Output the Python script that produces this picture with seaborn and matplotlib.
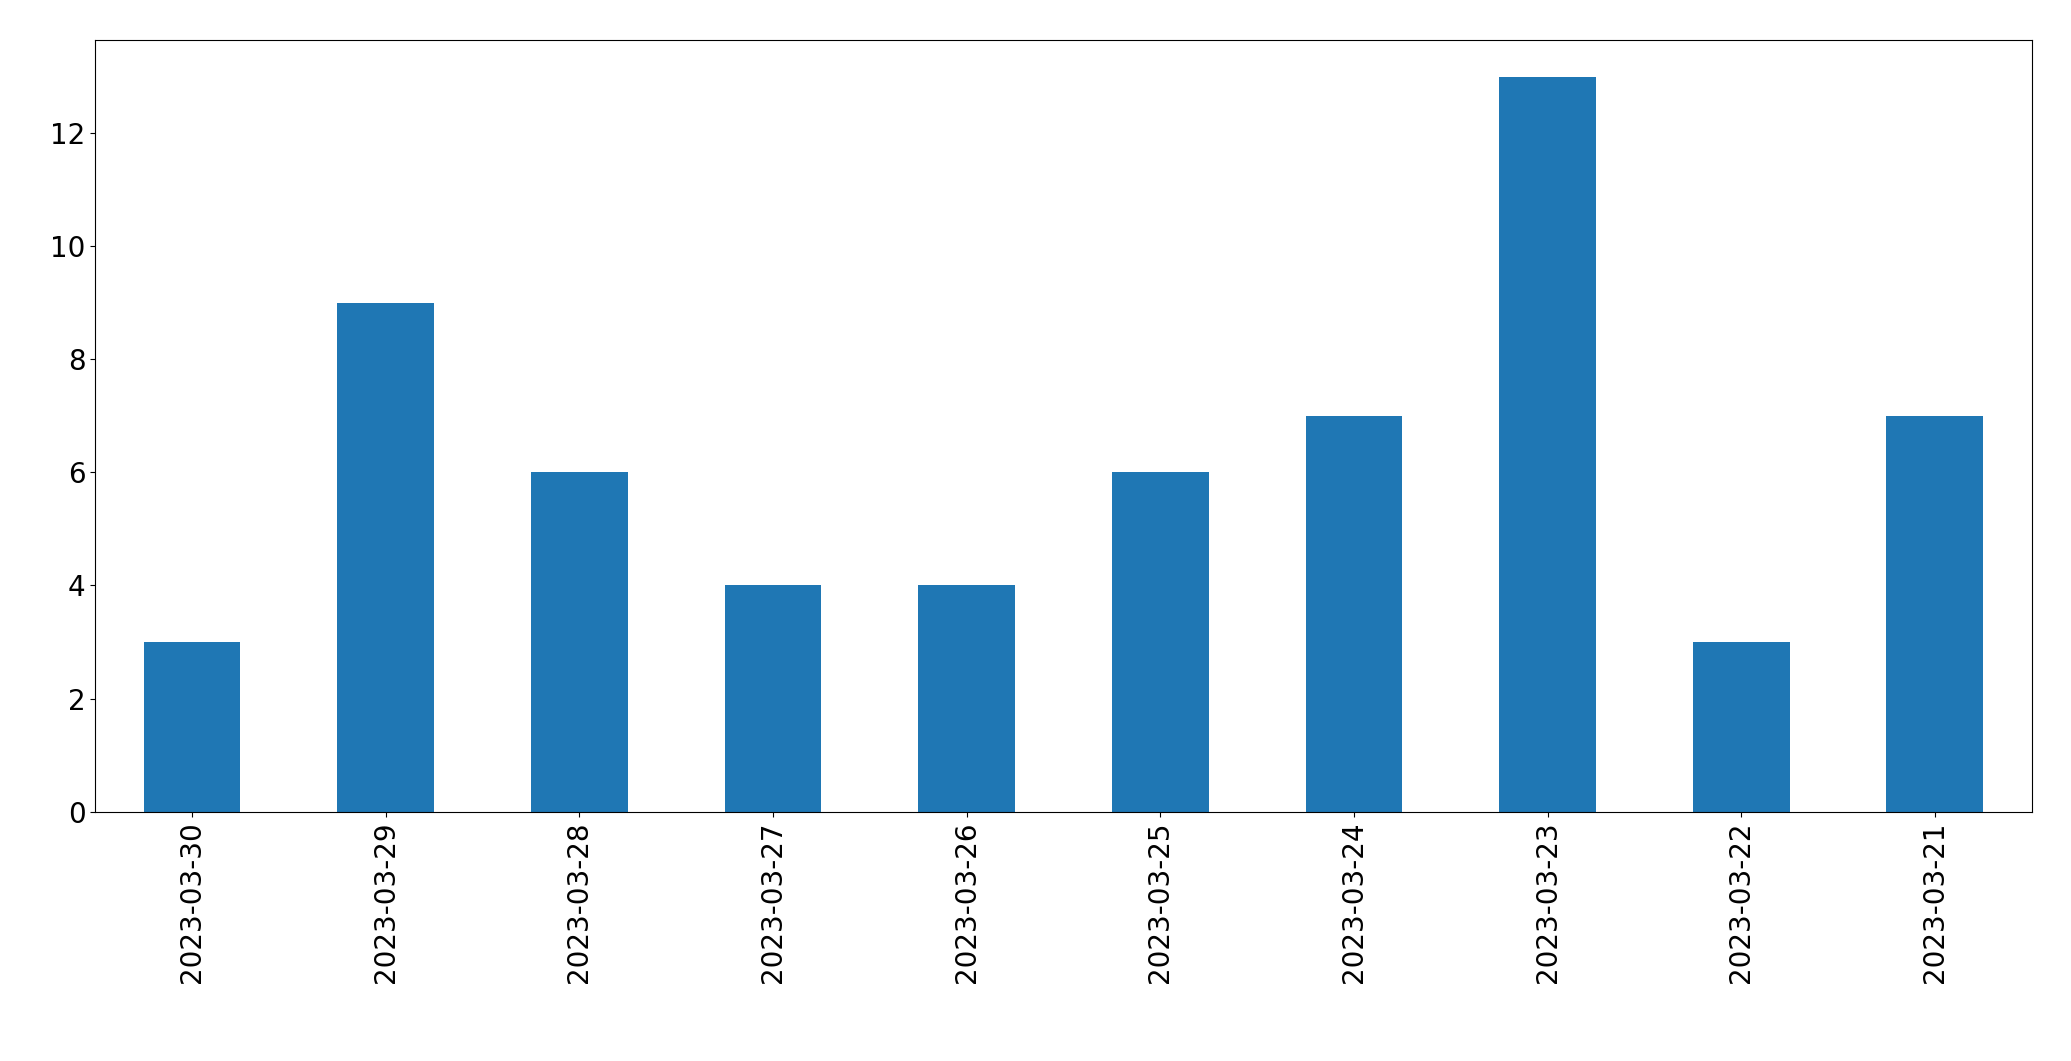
import matplotlib
matplotlib.use("Agg")
import matplotlib.pyplot as plt
import seaborn as sns
import pandas as pd

dates = ["2023-03-30","2023-03-29","2023-03-28","2023-03-27","2023-03-26",
         "2023-03-25","2023-03-24","2023-03-23","2023-03-22","2023-03-21"]
counts = [3, 9, 6, 4, 4, 6, 7, 13, 3, 7]

df = pd.DataFrame({"date": dates, "count": counts})
fig = plt.figure(figsize=(20.71, 10.61), dpi=100)
ax = fig.add_axes([0.046, 0.235, 0.935, 0.7275])
sns.barplot(data=df, x="date", y="count", color="#1f77b4", saturation=1, width=0.5, ax=ax)
ax.set_xlabel("")
ax.set_ylabel("")
ax.set_xlim(-0.5, len(dates) - 0.5)
ax.tick_params(axis="x", labelrotation=90, labelsize=20)
ax.tick_params(axis="y", labelsize=20)
fig.savefig("out.png", dpi=100)
